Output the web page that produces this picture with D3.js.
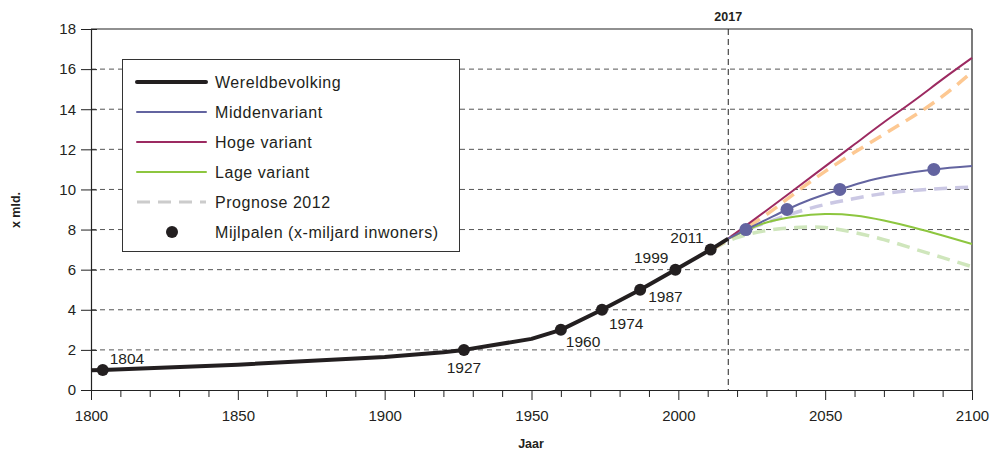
<!DOCTYPE html>
<html><head><meta charset="utf-8">
<script src="https://cdn.jsdelivr.net/npm/d3@7"></script>
<style>body{margin:0;background:#fff}svg{display:block;font-family:"Liberation Sans",Arial,sans-serif}</style>
</head><body><svg id="c" width="990" height="450"></svg>
<script>
// ---- data ----
const yTicks = [0,2,4,6,8,10,12,14,16,18];
const xTicks = [1800,1850,1900,1950,2000,2050,2100];
const wereldYears = [1800,1804,1850,1900,1920,1927,1950,1960,1974,1987,1999,2011,2017];
const wereldVals  = [0.98,1.0,1.26,1.65,1.88,2.0,2.55,3.0,4.0,5.0,6.0,7.0,7.55];
const projYears = [2017,2023,2030,2037,2045,2055,2065,2075,2087,2100];
const middenVals = [7.55,8.0,8.5,9.0,9.5,10.0,10.45,10.75,11.0,11.17];
const hogeYears = [2017,2030,2040,2050,2060,2070,2080,2090,2100];
const hogeVals  = [7.55,8.95,10.05,11.15,12.25,13.35,14.4,15.5,16.56];
const lageYears = [2017,2023,2030,2040,2050,2060,2070,2080,2090,2100];
const lageVals  = [7.55,7.95,8.35,8.65,8.77,8.7,8.45,8.1,7.7,7.28];
const progYears = [2012,2020,2030,2040,2050,2060,2070,2080,2090,2100];
const progHoog  = [7.05,7.8,8.75,9.85,10.9,11.85,12.75,13.65,14.65,15.85];
const progMidden= [7.05,7.8,8.35,8.85,9.25,9.55,9.8,9.95,10.05,10.12];
const progLaag  = [7.05,7.6,7.95,8.1,8.1,7.85,7.5,7.05,6.6,6.15];
const mijlWereld = [[1804,1,"1804"],[1927,2,"1927"],[1960,3,"1960"],[1974,4,"1974"],[1987,5,"1987"],[1999,6,"1999"],[2011,7,"2011"]];
const mijlMidden = [[2023,8],[2037,9],[2055,10],[2087,11]];
const legendItems = ["Wereldbevolking","Middenvariant","Hoge variant","Lage variant","Prognose 2012","Mijlpalen (x-miljard inwoners)"];

const svg = d3.select("#c");
const x = d3.scaleLinear().domain([1800,2100]).range([91,972]);
const y = d3.scaleLinear().domain([0,18]).range([390,29]);

// grid
svg.append("g").selectAll("line").data(yTicks.filter(d=>d>0&&d<18)).join("line")
  .attr("x1",x(1800)).attr("x2",x(2100)).attr("y1",d=>y(d)).attr("y2",d=>y(d))
  .attr("stroke","#555").attr("stroke-width",1).attr("stroke-dasharray","5,4");

// border top/right
svg.append("line").attr("x1",x(1800)).attr("x2",x(2100)).attr("y1",y(18)).attr("y2",y(18)).attr("stroke","#222").attr("stroke-width",1.2);
svg.append("line").attr("x1",x(2100)).attr("x2",x(2100)).attr("y1",y(18)).attr("y2",y(0)).attr("stroke","#222").attr("stroke-width",1.2);

// 2017 line
svg.append("line").attr("x1",x(2017)).attr("x2",x(2017)).attr("y1",y(18)).attr("y2",y(0))
  .attr("stroke","#222").attr("stroke-width",1).attr("stroke-dasharray","6,4");
svg.append("text").attr("x",x(2017)).attr("y",21).attr("text-anchor","middle")
  .attr("font-weight","bold").attr("font-size",12.5).attr("fill","#231f20").text("2017");

// axes
const yAxis = d3.axisLeft(y).tickValues(yTicks).tickSize(10).tickPadding(5);
const gy = svg.append("g").attr("transform",`translate(${x(1800)},0)`).call(yAxis);
gy.select(".domain").attr("stroke","#222").attr("stroke-width",1.2);
gy.selectAll(".tick line").attr("x2",-10).attr("x1",6).attr("stroke","#222");
gy.selectAll(".tick text").attr("font-size",15).attr("fill","#231f20").attr("font-family","Liberation Sans, Arial, sans-serif");

const xMinor = d3.range(1800,2101,10).filter(d=>d%50!==0);
const gxm = svg.append("g").attr("transform",`translate(0,${y(0)})`)
  .call(d3.axisBottom(x).tickValues(xMinor).tickSize(7).tickFormat(""));
gxm.select(".domain").remove();
gxm.selectAll(".tick line").attr("stroke","#222");
const gx = svg.append("g").attr("transform",`translate(0,${y(0)})`)
  .call(d3.axisBottom(x).tickValues(xTicks).tickSize(10).tickPadding(10).tickFormat(d3.format("d")).tickSizeOuter(0));
gx.select(".domain").attr("stroke","#222").attr("stroke-width",1.2);
gx.selectAll(".tick line").attr("stroke","#222");
gx.selectAll(".tick text").attr("font-size",15).attr("fill","#231f20").attr("font-family","Liberation Sans, Arial, sans-serif");

svg.append("text").attr("x",531).attr("y",448).attr("text-anchor","middle").attr("font-weight","bold").attr("font-size",12.5).attr("fill","#231f20").text("Jaar");
svg.append("text").attr("transform","translate(20,210) rotate(-90)").attr("text-anchor","middle").attr("font-weight","bold").attr("font-size",12.5).attr("fill","#231f20").text("x mld.");

// lines
const line = d3.line().x(d=>x(d[0])).y(d=>y(d[1])).curve(d3.curveNatural);
const zip = (a,b)=>a.map((v,i)=>[v,b[i]]);
const dash = "13,8";
svg.append("path").datum(zip(progYears,progLaag)).attr("d",line).attr("fill","none").attr("stroke","#cfe6bc").attr("stroke-width",3.5).attr("stroke-dasharray",dash);
svg.append("path").datum(zip(progYears,progMidden)).attr("d",line).attr("fill","none").attr("stroke","#cbc8e4").attr("stroke-width",3.5).attr("stroke-dasharray",dash);
svg.append("path").datum(zip(progYears,progHoog)).attr("d",line).attr("fill","none").attr("stroke","#fdc892").attr("stroke-width",3.5).attr("stroke-dasharray",dash);
svg.append("path").datum(zip(lageYears,lageVals)).attr("d",line).attr("fill","none").attr("stroke","#8dc63f").attr("stroke-width",2);
svg.append("path").datum(zip(hogeYears,hogeVals)).attr("d",line).attr("fill","none").attr("stroke","#9c2a61").attr("stroke-width",2);
svg.append("path").datum(zip(projYears,middenVals)).attr("d",line).attr("fill","none").attr("stroke","#6364a0").attr("stroke-width",2);
svg.append("path").datum(zip(wereldYears,wereldVals)).attr("d",d3.line().x(d=>x(d[0])).y(d=>y(d[1]))).attr("fill","none").attr("stroke","#231f20").attr("stroke-width",4).attr("stroke-linejoin","round");

// milestones
svg.append("g").selectAll("circle").data(mijlWereld).join("circle")
  .attr("cx",d=>x(d[0])).attr("cy",d=>y(d[1])).attr("r",6).attr("fill","#231f20");
svg.append("g").selectAll("circle").data(mijlMidden).join("circle")
  .attr("cx",d=>x(d[0])).attr("cy",d=>y(d[1])).attr("r",6.5).attr("fill","#6364a0");
const lblOff = {"1804":[7,-6,"start"],"1927":[0,23,"middle"],"1960":[5,17,"start"],"1974":[7,19,"start"],"1987":[8,12,"start"],"1999":[-7,-7,"end"],"2011":[-7,-7,"end"]};
svg.append("g").selectAll("text").data(mijlWereld).join("text")
  .attr("x",d=>x(d[0])+lblOff[d[2]][0]).attr("y",d=>y(d[1])+lblOff[d[2]][1])
  .attr("text-anchor",d=>lblOff[d[2]][2]).attr("font-size",15.5).attr("fill","#231f20").text(d=>d[2]);

// legend
const lg = svg.append("g");
lg.append("rect").attr("x",122.5).attr("y",59.5).attr("width",337).attr("height",192).attr("fill","#fff").attr("stroke","#333").attr("stroke-width",1);
const lStyles = [
  {c:"#231f20",w:4},{c:"#6364a0",w:2},{c:"#9c2a61",w:2},{c:"#8dc63f",w:2},{c:"#cccccc",w:3,d:"13,8"},{dot:true}];
legendItems.forEach((t,i)=>{
  const yy = 82+i*30;
  const s = lStyles[i];
  if(s.dot){ lg.append("circle").attr("cx",172).attr("cy",yy).attr("r",6).attr("fill","#231f20"); }
  else { lg.append("line").attr("x1",137).attr("x2",206).attr("y1",yy).attr("y2",yy).attr("stroke",s.c).attr("stroke-width",s.w).attr("stroke-linecap",s.d?"butt":"round").attr("stroke-dasharray",s.d||null); }
  lg.append("text").attr("x",215).attr("y",yy+6).attr("font-size",16).attr("letter-spacing",0.55).attr("fill","#231f20").text(t);
});
</script></body></html>
